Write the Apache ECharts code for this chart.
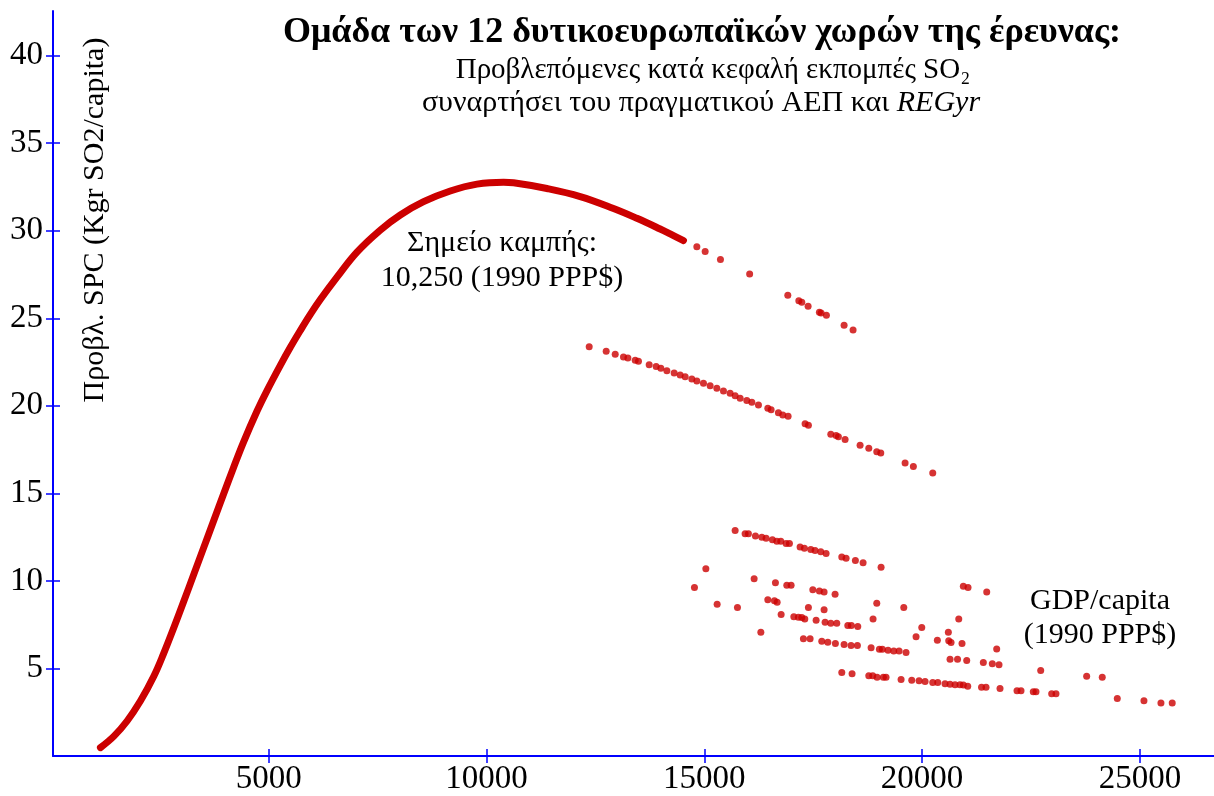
<!DOCTYPE html>
<html>
<head>
<meta charset="utf-8">
<script src="https://cdn.jsdelivr.net/npm/echarts@6/dist/echarts.min.js"></script>
<style>
  html, body { margin: 0; padding: 0; background: #fff; }
  #chart { width: 1214px; height: 796px; }
</style>
</head>
<body>
<div id="chart"></div>
<script>
// [GDP/capita (1990 PPP$), predicted SPC (Kgr SO2/capita)]
const curvePoints = [
  [1139, 0.48], [1444, 1.12], [1751, 2.00], [2056, 3.14], [2361, 4.54], [2591, 5.86],
  [2820, 7.31], [3050, 8.82], [3279, 10.36], [3509, 11.90], [3738, 13.44], [3968, 14.98],
  [4197, 16.49], [4426, 17.94], [4734, 19.70], [4963, 20.87], [5268, 22.31], [5498, 23.34],
  [5727, 24.30], [5957, 25.22], [6186, 26.07], [6569, 27.35], [7028, 28.78], [7563, 30.04],
  [8022, 30.90], [8556, 31.66], [9169, 32.27], [9782, 32.66], [10392, 32.77], [10621, 32.74],
  [11388, 32.41], [12152, 31.95], [12916, 31.27], [13453, 30.71], [13987, 30.10], [14217, 29.82],
  [14522, 29.44]
];
const upperTail = [
  [14829, 29.08], [15020, 28.81], [15371, 28.36], [16041, 27.53], [16917, 26.32], [17170, 26.00],
  [17238, 25.92], [17383, 25.68], [17642, 25.35], [17681, 25.30], [17803, 25.17], [18209, 24.60],
  [18415, 24.33]
];
const middleBranch = [
  [12358, 23.38], [12748, 23.11], [12955, 22.94], [13145, 22.79], [13246, 22.73], [13414, 22.60],
  [13489, 22.54], [13735, 22.35], [13895, 22.24], [14003, 22.14], [14141, 22.01], [14308, 21.88],
  [14446, 21.76], [14561, 21.66], [14714, 21.53], [14829, 21.42], [14981, 21.29], [15134, 21.15],
  [15288, 21.00], [15440, 20.85], [15593, 20.72], [15708, 20.58], [15823, 20.43], [15976, 20.30],
  [16091, 20.21], [16243, 20.05], [16458, 19.86], [16534, 19.78], [16701, 19.61], [16802, 19.48],
  [16924, 19.41], [17314, 18.97], [17390, 18.89], [17904, 18.38], [18025, 18.30], [18078, 18.23],
  [18232, 18.07], [18576, 17.75], [18776, 17.58], [18959, 17.37], [19051, 17.30], [19609, 16.73],
  [19799, 16.53], [20244, 16.16]
];
const rowA = [
  [15708, 12.88], [15937, 12.70], [16013, 12.70], [16174, 12.57], [16321, 12.49], [16419, 12.43],
  [16564, 12.35], [16665, 12.26], [16756, 12.26], [16878, 12.14], [16954, 12.13], [17199, 11.94],
  [17298, 11.86], [17445, 11.80], [17543, 11.73], [17674, 11.67], [17796, 11.56], [18156, 11.37],
  [18255, 11.29], [18468, 11.17], [18645, 11.04], [19058, 10.78]
];
const rowB = [
  [17055, 7.96], [17160, 7.92], [17238, 7.91], [17307, 7.83], [17567, 7.75], [17773, 7.64],
  [17904, 7.58], [18041, 7.58], [18294, 7.45], [18376, 7.45], [18523, 7.39]
];
const rowC = [
  [17275, 6.69], [17429, 6.69], [17697, 6.56], [17835, 6.50], [18009, 6.43], [18209, 6.37],
  [18369, 6.31], [18514, 6.31], [18829, 6.18], [19019, 6.10], [19088, 6.10], [19218, 6.04],
  [19349, 5.99], [19471, 5.99], [19631, 5.91]
];
const rowD = [
  [18156, 4.77], [18392, 4.70], [18776, 4.58], [18867, 4.58], [18966, 4.50], [19110, 4.50],
  [19172, 4.50], [19517, 4.37], [19762, 4.32], [19930, 4.30], [20068, 4.26], [20244, 4.20],
  [20359, 4.20], [20526, 4.13], [20641, 4.10], [20756, 4.07], [20870, 4.07], [20946, 4.05],
  [21047, 3.99], [21364, 3.93], [21467, 3.93], [21788, 3.86], [22178, 3.73], [22270, 3.72],
  [22552, 3.67], [22614, 3.67], [22974, 3.56], [23073, 3.56]
];
const otherPoints = [
  [14774, 9.62], [15036, 10.70], [15295, 8.67], [15761, 8.48], [16144, 10.13], [16298, 7.07],
  [16458, 8.93], [16610, 8.86], [16672, 8.78], [16633, 9.89], [16764, 8.08], [16894, 9.75],
  [16993, 9.75], [17390, 8.48], [17491, 9.49], [17642, 9.43], [17750, 9.37], [17750, 8.35],
  [18002, 9.24], [18874, 7.83], [18959, 8.72], [19579, 8.48], [19861, 6.81], [19992, 7.34],
  [20350, 6.61], [20602, 7.07], [20611, 6.58], [20664, 6.48], [20841, 7.83], [20916, 6.43],
  [20946, 9.69], [21054, 9.62], [21483, 9.37], [21712, 6.11], [20641, 5.53], [20813, 5.53],
  [21024, 5.46], [21405, 5.34], [21611, 5.27], [21765, 5.21], [22722, 4.89], [23777, 4.56],
  [24135, 4.50], [24480, 3.29], [25092, 3.16], [25482, 3.02], [25741, 3.02]
];
const xTicks = [5000, 10000, 15000, 20000, 25000];
const yTicks = [5, 10, 15, 20, 25, 30, 35, 40];

const titleText = 'Ομάδα των 12 δυτικοευρωπαϊκών χωρών της έρευνας:';
const subtitle1 = 'Προβλεπόμενες κατά κεφαλή εκπομπές SO₂';
const subtitle2 = 'συναρτήσει του πραγματικού ΑΕΠ και ';
const subtitle2Italic = 'REGyr';
const yName = 'Προβλ. SPC (Kgr SO2/capita)';
const turnLabel = ['Σημείο καμπής:', '10,250 (1990 PPP$)'];
const xName = ['GDP/capita', '(1990 PPP$)'];

const FONT = '"Liberation Serif", "Times New Roman", serif';
const BLUE = '#0000ff';
const RED = '#cc0000';

const chart = echarts.init(document.getElementById('chart'));

const xRange = { min: 50, max: 26700 };
const yRange = { min: 0, max: 42.55 };

function textEl(x, y, text, size, extra) {
  return {
    type: 'text', x: x, y: y, silent: true,
    style: Object.assign({
      text: text, fontSize: size, fontFamily: FONT, fill: '#000',
      align: 'center', verticalAlign: 'middle'
    }, extra || {})
  };
}

const plain = v => String(v);

const option = {
  animation: false,
  backgroundColor: '#fff',
  grid: { left: 53, right: 0, top: 11, bottom: 39, containLabel: false },
  xAxis: [
    {
      type: 'value', min: xRange.min, max: xRange.max,
      axisLine: { show: true, lineStyle: { color: BLUE, width: 2 } },
      axisTick: { show: true, length: 7, customValues: xTicks, lineStyle: { color: BLUE, width: 1.5 } },
      axisLabel: { customValues: xTicks, formatter: plain, fontSize: 33, fontFamily: FONT, color: '#000', margin: 7 },
      splitLine: { show: false }
    },
    {
      type: 'value', min: xRange.min, max: xRange.max, position: 'bottom',
      axisLine: { show: false },
      axisTick: { show: true, inside: true, length: 7, customValues: xTicks, lineStyle: { color: BLUE, width: 1.5 } },
      axisLabel: { show: false },
      splitLine: { show: false }
    }
  ],
  yAxis: [
    {
      type: 'value', min: yRange.min, max: yRange.max,
      axisLine: { show: true, lineStyle: { color: BLUE, width: 2 } },
      axisTick: { show: true, length: 7, customValues: yTicks, lineStyle: { color: BLUE, width: 1.5 } },
      axisLabel: { customValues: yTicks, formatter: plain, fontSize: 33, fontFamily: FONT, color: '#000', margin: 10 },
      splitLine: { show: false }
    },
    {
      type: 'value', min: yRange.min, max: yRange.max, position: 'left',
      axisLine: { show: false },
      axisTick: { show: true, inside: true, length: 7, customValues: yTicks, lineStyle: { color: BLUE, width: 1.5 } },
      axisLabel: { show: false },
      splitLine: { show: false }
    }
  ],
  series: [
    {
      // dense part of the curve: points overlap into one band
      type: 'line', data: curvePoints, smooth: 0.4,
      showSymbol: false, symbol: 'none',
      lineStyle: { color: RED, width: 7, cap: 'round', join: 'round' },
      xAxisIndex: 0, yAxisIndex: 0, z: 3
    },
    {
      type: 'scatter',
      data: [].concat(upperTail, middleBranch, rowA, rowB, rowC, rowD, otherPoints),
      symbol: 'circle', symbolSize: 7,
      itemStyle: { color: RED },
      xAxisIndex: 0, yAxisIndex: 0, z: 3
    }
  ],
  graphic: [
    textEl(702, 33, titleText, 36, { fontWeight: 'bold' }),
    textEl(713, 70, subtitle1, 29),
    {
      type: 'text', x: 701, y: 103, silent: true,
      style: {
        text: '{n|' + subtitle2 + '}{i|' + subtitle2Italic + '}',
        align: 'center', verticalAlign: 'middle',
        rich: {
          n: { fontSize: 30, fontFamily: FONT, fill: '#000' },
          i: { fontSize: 30, fontFamily: FONT, fontStyle: 'italic', fill: '#000' }
        }
      }
    },
    textEl(95, 220, yName, 30, {}),
    textEl(502, 243, turnLabel[0], 30),
    textEl(502, 278, turnLabel[1], 30),
    textEl(1100, 601, xName[0], 30),
    textEl(1100, 635, xName[1], 30)
  ]
};
option.graphic[3].rotation = Math.PI / 2;

chart.setOption(option);
</script>
</body>
</html>
